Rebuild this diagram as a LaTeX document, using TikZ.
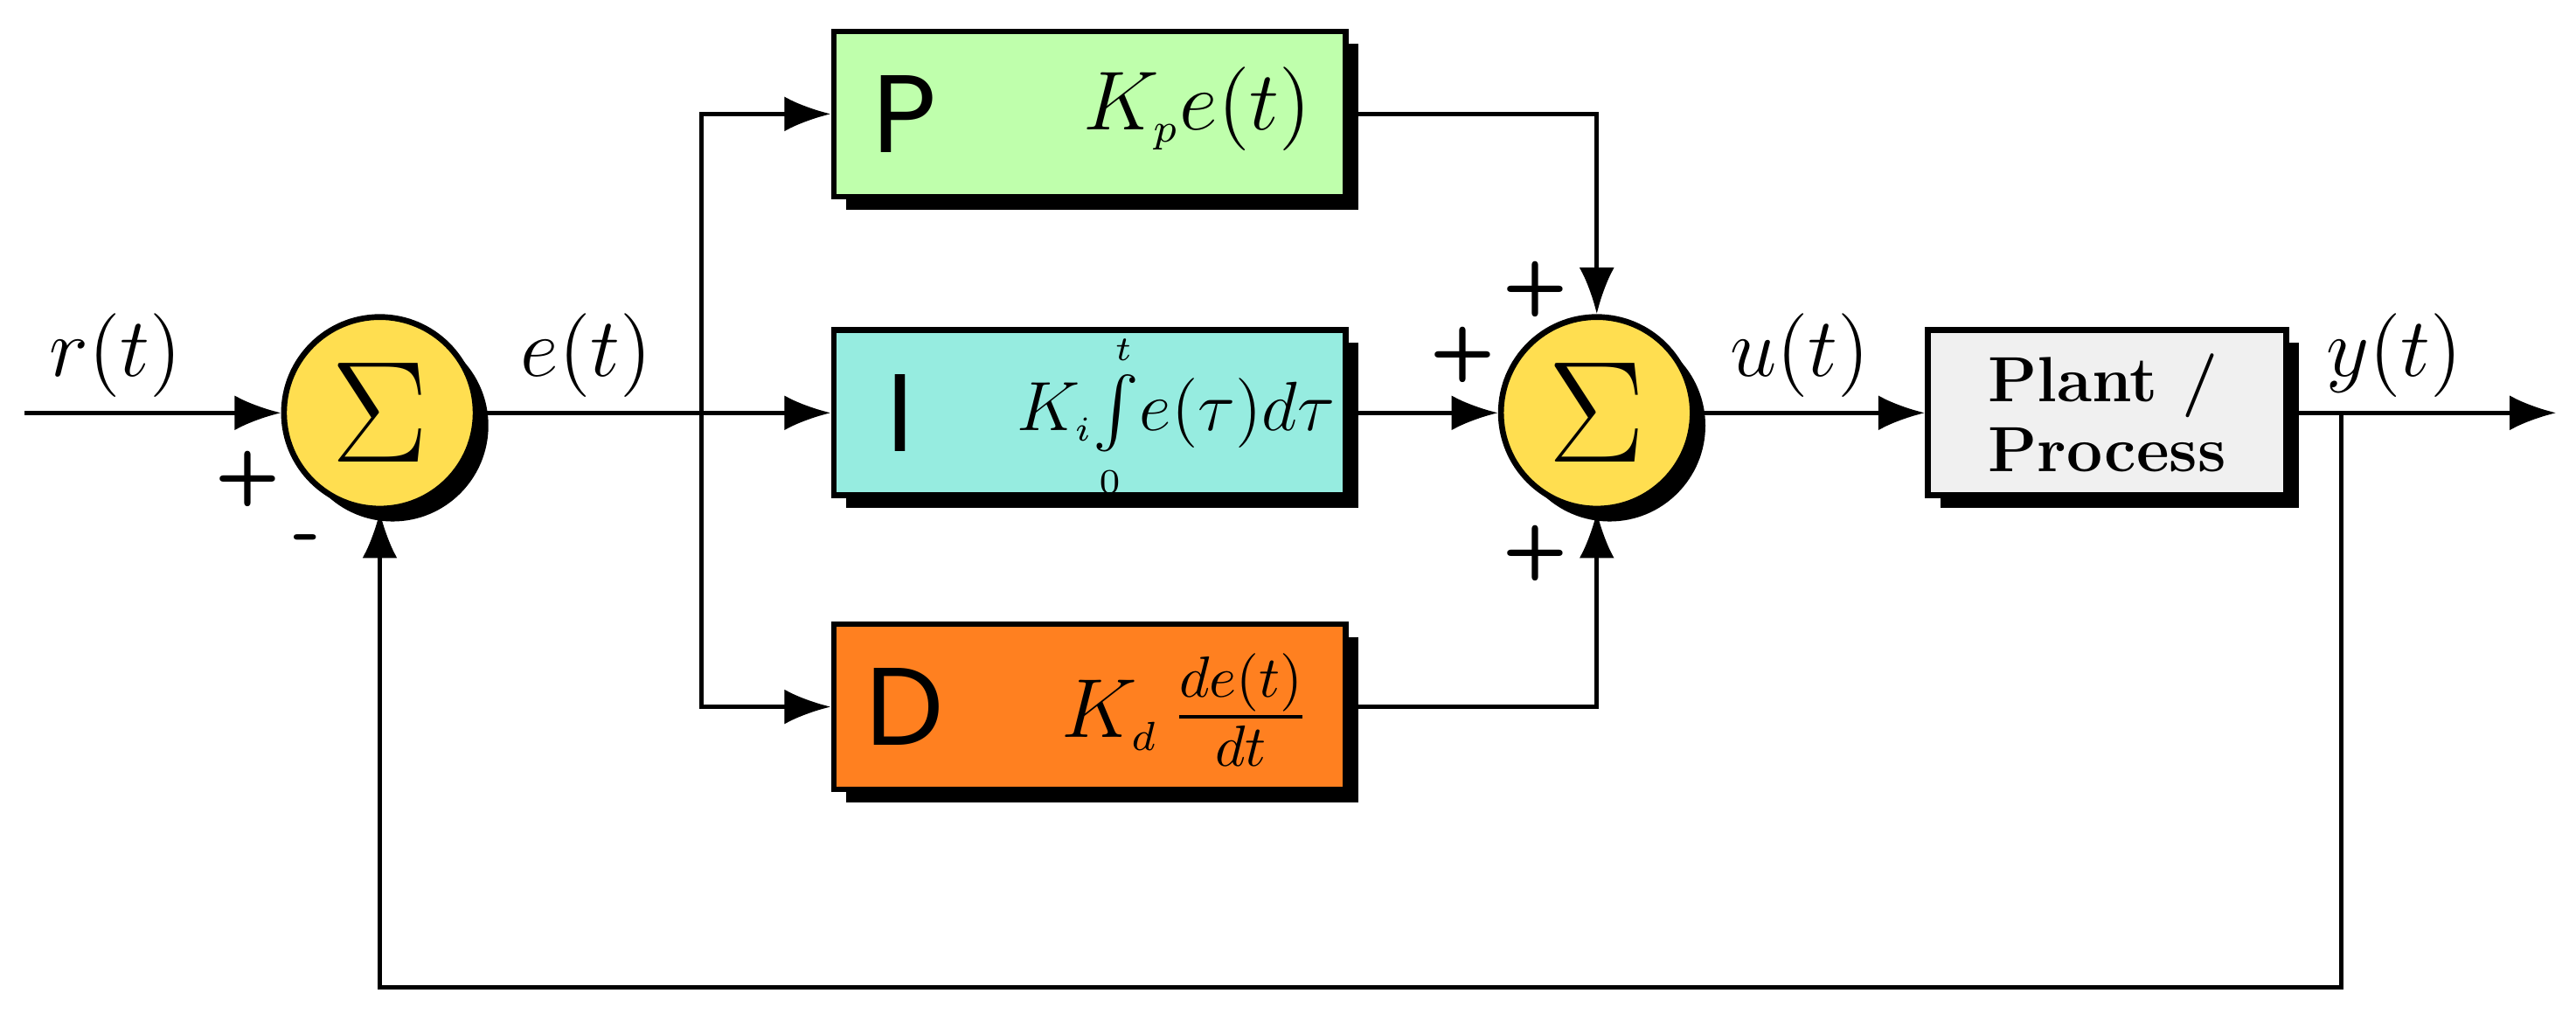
\documentclass[tikz,border=0pt]{standalone}
\usepackage{amsmath}
\usepackage{fontspec}
\newfontfamily\boxfont{Poppins}
\usetikzlibrary{arrows.meta, positioning, shadows, calc}
\definecolor{pColor}{RGB}{191, 255, 172}
\definecolor{iColor}{RGB}{150, 236, 224}
\definecolor{dColor}{RGB}{255, 128, 32}
\definecolor{sumColor}{RGB}{255, 222, 80}
\definecolor{plantColor}{RGB}{240, 240, 240}

\begin{document}
\begin{tikzpicture}[x=0.01cm, y=-0.01cm,
    shade/.style={drop shadow={shadow xshift=2.2pt, shadow yshift=-2.2pt, opacity=1, fill=black}},
    block/.style={rectangle, draw, line width=1pt, minimum width=3.1cm, minimum height=1cm, shade},
    summer/.style={circle, draw, line width=1pt, fill=sumColor, minimum size=1.16cm, inner sep=0pt, shade, font=\fontsize{23}{25}\selectfont},
    arrow/.style={-{Latex[length=8pt, width=6pt]}, line width=0.75pt},
    wire/.style={line width=0.75pt},
    sig/.style={font=\fontsize{14.5}{16}\selectfont},
    term/.style={font=\fontsize{14}{16}\selectfont},
    sign/.style={font=\sffamily\bfseries\fontsize{13}{15}\selectfont},
    letter/.style={font=\boxfont\fontsize{19}{21}\selectfont}
]
    \useasboundingbox (0,0) rectangle (1560,614);

    % Summing junctions
    \node[summer] (sum1) at (230,250) {$\Sigma$};
    \node[summer] (sum2) at (967,250) {$\Sigma$};

    % Controller terms
    \node[block, fill=pColor] (pblock) at (660,69) {};
    \node[block, fill=iColor] (iblock) at (660,250) {};
    \node[block, fill=dColor] (dblock) at (660,428) {};
    \node[letter] (pname) at (548,69) {P};
    \node[letter] (iname) at (545,250) {I};
    \node[letter] (dname) at (548,428) {D};
    \node[term] (pterm) at (725,66) {$K_{\scriptscriptstyle p}e(t)$};
    \node[term, font=\fontsize{12.5}{14}\selectfont, inner sep=0pt] (iterm) at (712,252) {$K_{\scriptscriptstyle i}\!\int\limits_{\scriptscriptstyle 0}^{\scriptscriptstyle t}\! e(\tau)d\tau$};
    \node[term] (dterm) at (718,430) {$K_{\scriptscriptstyle d}\,\frac{de(t)}{dt}$};

    % Plant
    \node[block, fill=plantColor, minimum width=2.17cm, font=\rmfamily\bfseries\fontsize{11}{12}\selectfont, align=left] (plant) at (1276,250) {Plant /\\Process};

    % Helper points
    \coordinate (start) at (15,250);
    \coordinate (split) at (425,250);
    \coordinate (tap) at (1418,250);
    \coordinate (finish) at (1548,250);

    % Signal labels
    \node[sig] (rlabel) at (70,215) {$r(t)$};
    \node[sig] (elabel) at (355,215) {$e(t)$};
    \node[sig] (ulabel) at (1090,215) {$u(t)$};
    \node[sig] (ylabel) at (1450,215) {$y(t)$};

    % Signs
    \node[sign] (plus1) at (150,290) {+};
    \node[sign] (minus1) at (186,330) {-};
    \node[sign] (plusp) at (930,175) {+};
    \node[sign] (plusi) at (886,215) {+};
    \node[sign] (plusd) at (930,335) {+};

    % Arrows
    \draw[arrow] (start) -- (sum1);
    \draw[wire] (sum1) -- (split);
    \draw[arrow] (split) -- (iblock);
    \draw[arrow] (split) |- (pblock);
    \draw[arrow] (split) |- (dblock);
    \draw[arrow] (pblock.east) -| (sum2);
    \draw[arrow] (iblock) -- (sum2);
    \draw[arrow] (dblock.east) -| (sum2);
    \draw[arrow] (sum2) -- (plant);
    \draw[arrow] (plant) -- (finish);
    \draw[arrow] (tap) -- ++(0,348) -| (sum1);
\end{tikzpicture}
\end{document}
